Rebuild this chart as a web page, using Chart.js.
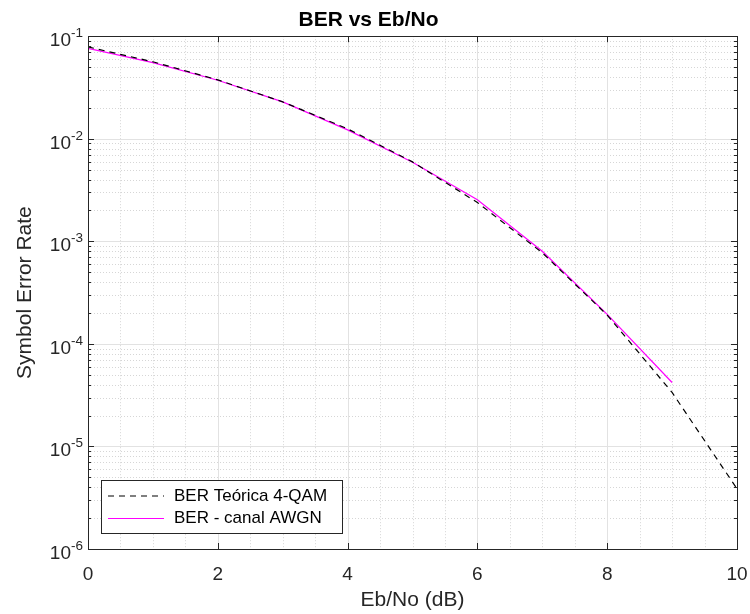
<!DOCTYPE html>
<html>
<head>
<meta charset="utf-8">
<script src="https://cdn.jsdelivr.net/npm/chart.js@4"></script>
<style>
  html, body { margin: 0; padding: 0; background: #fff; }
  #wrap { width: 750px; height: 614px; }
</style>
</head>
<body>
<div id="wrap"><canvas id="berChart"></canvas></div>
<script>
// Eb/No (dB) and error rates
const ebno = [0, 1, 2, 3, 4, 5, 6, 7, 8, 9, 10];
const berTeorica = [7.86e-2, 5.63e-2, 3.75e-2, 2.29e-2, 1.25e-2, 5.95e-3, 2.39e-3, 7.73e-4, 1.91e-4, 3.36e-5, 3.87e-6];

const ebnoSim = [0, 1, 2, 3, 4, 5, 6, 7, 8, 9];
const berSimulado = [7.6e-2, 5.52e-2, 3.72e-2, 2.29e-2, 1.22e-2, 5.9e-3, 2.54e-3, 8.0e-4, 1.94e-4, 4.2e-5];

const seriesLabels = ["BER Teórica 4-QAM", "BER - canal AWGN"];

// axis ticks
const xTicks = [0, 2, 4, 6, 8, 10];
const yTicks = [1e-6, 1e-5, 1e-4, 1e-3, 1e-2, 1e-1];
const yTickExp = ["-6", "-5", "-4", "-3", "-2", "-1"];

const FONT = "'Liberation Sans', Arial, Helvetica, sans-serif";
const AXIS_COLOR = "#262626";

// minor grid positions
const xMinor = [];
for (let v = 0.5; v < 10; v += 0.5) {
  if (!xTicks.includes(v)) xMinor.push(v);
}
const yMinor = [];
for (let i = 0; i < yTicks.length - 1; i++) {
  for (let k = 2; k <= 9; k++) yMinor.push(k * yTicks[i]);
}

function hLine(ctx, x1, x2, y) {
  const py = Math.round(y) + 0.5;
  ctx.beginPath();
  ctx.moveTo(x1, py);
  ctx.lineTo(x2, py);
  ctx.stroke();
}
function vLine(ctx, x, y1, y2) {
  const px = Math.round(x) + 0.5;
  ctx.beginPath();
  ctx.moveTo(px, y1);
  ctx.lineTo(px, y2);
  ctx.stroke();
}

const matlabAxes = {
  id: "matlabAxes",
  beforeDatasetsDraw(chart) {
    const { ctx, chartArea: a, scales: { x, y } } = chart;
    ctx.save();
    ctx.lineWidth = 1;

    // minor grid (dotted)
    ctx.strokeStyle = "#d6d6d6";
    ctx.setLineDash([1, 2]);
    for (const v of xMinor) vLine(ctx, x.getPixelForValue(v), a.top, a.bottom);
    for (const v of yMinor) hLine(ctx, a.left, a.right, y.getPixelForValue(v));

    // major grid
    ctx.setLineDash([]);
    ctx.strokeStyle = "#e2e2e2";
    for (const v of xTicks) vLine(ctx, x.getPixelForValue(v), a.top, a.bottom);
    for (const v of yTicks) hLine(ctx, a.left, a.right, y.getPixelForValue(v));
    ctx.restore();
  },
  afterDatasetsDraw(chart) {
    const { ctx, chartArea: a, scales: { x, y } } = chart;
    ctx.save();
    ctx.lineWidth = 1;
    ctx.strokeStyle = AXIS_COLOR;

    // box
    ctx.strokeRect(Math.round(a.left) + 0.5, Math.round(a.top) + 0.5,
      Math.round(a.right) - Math.round(a.left), Math.round(a.bottom) - Math.round(a.top));

    // inward ticks
    for (const v of xTicks) {
      const px = x.getPixelForValue(v);
      vLine(ctx, px, a.bottom - 6, a.bottom);
      vLine(ctx, px, a.top, a.top + 6);
    }
    for (const v of yTicks) {
      const py = y.getPixelForValue(v);
      hLine(ctx, a.left, a.left + 6, py);
      hLine(ctx, a.right - 6, a.right, py);
    }
    for (const v of yMinor) {
      const py = y.getPixelForValue(v);
      hLine(ctx, a.left, a.left + 3, py);
      hLine(ctx, a.right - 3, a.right, py);
    }

    // y tick labels 10^n
    ctx.fillStyle = AXIS_COLOR;
    ctx.textAlign = "right";
    ctx.textBaseline = "alphabetic";
    const rightEdge = a.left - 5;
    yTicks.forEach((v, i) => {
      const py = y.getPixelForValue(v);
      ctx.font = "13.5px " + FONT;
      const we = ctx.measureText(yTickExp[i]).width;
      ctx.fillText(yTickExp[i], rightEdge, py + 1);
      ctx.font = "19px " + FONT;
      ctx.fillText("10", rightEdge - we, py + 10);
    });

    // legend
    const lx = 101, ly = 480, lw = 241, lh = 53;
    ctx.fillStyle = "#fff";
    ctx.fillRect(lx, ly, lw, lh);
    ctx.strokeStyle = AXIS_COLOR;
    ctx.strokeRect(lx + 0.5, ly + 0.5, lw, lh);
    const rows = [ly + 16, ly + 38.5];
    chart.data.datasets.forEach((ds, i) => {
      ctx.strokeStyle = ds.borderColor;
      ctx.lineWidth = ds.borderWidth;
      ctx.setLineDash(ds.borderDash || []);
      ctx.beginPath();
      ctx.moveTo(lx + 7, rows[i]);
      ctx.lineTo(lx + 63, rows[i]);
      ctx.stroke();
      ctx.setLineDash([]);
      ctx.fillStyle = "#000";
      ctx.textAlign = "left";
      ctx.textBaseline = "middle";
      ctx.font = "17px " + FONT;
      ctx.fillText(ds.label, lx + 73, rows[i]);
    });
    ctx.restore();
  },
};

const ctx = document.getElementById("berChart");

new Chart(ctx, {
  type: "line",
  data: {
    datasets: [
      {
        label: seriesLabels[0],
        data: ebno.map((v, i) => ({ x: v, y: berTeorica[i] })),
        borderColor: "#000000",
        borderWidth: 1.2,
        borderDash: [6, 5],
        pointRadius: 0,
        tension: 0,
      },
      {
        label: seriesLabels[1],
        data: ebnoSim.map((v, i) => ({ x: v, y: berSimulado[i] })),
        borderColor: "#ff00ff",
        borderWidth: 1.2,
        pointRadius: 0,
        tension: 0,
      },
    ],
  },
  plugins: [matlabAxes],
  options: {
    responsive: true,
    maintainAspectRatio: false,
    animation: false,
    devicePixelRatio: 1,
    layout: { padding: { top: 0, right: 13, left: 0, bottom: 0 } },
    plugins: {
      legend: { display: false },
      tooltip: { enabled: false },
      title: {
        display: true,
        text: "BER vs Eb/No",
        color: "#000",
        font: { family: FONT, size: 21, weight: "bold" },
        padding: { top: 8, bottom: 3 },
      },
    },
    scales: {
      x: {
        type: "linear",
        min: 0,
        max: 10,
        grid: { display: false },
        border: { display: false },
        ticks: {
          stepSize: 2,
          color: AXIS_COLOR,
          font: { family: FONT, size: 19 },
          padding: 6,
          maxRotation: 0,
        },
        afterBuildTicks: (s) => {
          s.ticks = xTicks.map((v) => ({ value: v }));
        },
        title: {
          display: true,
          text: "Eb/No (dB)",
          color: AXIS_COLOR,
          font: { family: FONT, size: 21 },
          padding: { top: 0, bottom: 1 },
        },
        afterFit: (s) => {
          s.height = 65;
          s.paddingLeft = 0;
          s.paddingRight = 0;
        },
      },
      y: {
        type: "logarithmic",
        min: 1e-6,
        max: 1e-1,
        grid: { display: false },
        border: { display: false },
        ticks: { display: false },
        title: {
          display: true,
          text: "Symbol Error Rate",
          color: AXIS_COLOR,
          font: { family: FONT, size: 21 },
          padding: { top: 13, bottom: 0 },
        },
        afterFit: (s) => {
          s.width = 88;
        },
      },
    },
  },
});
</script>
</body>
</html>
